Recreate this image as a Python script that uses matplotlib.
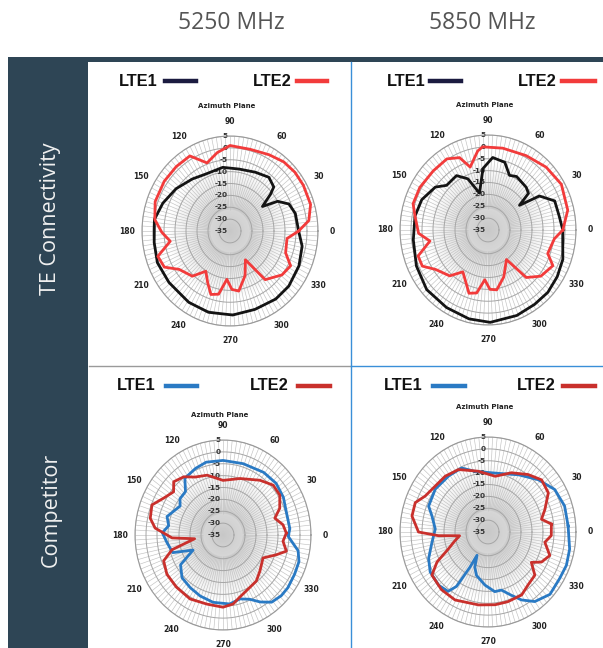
import numpy as np
import matplotlib
matplotlib.use("Agg")
import matplotlib.pyplot as plt
from matplotlib.patches import Rectangle
from matplotlib.lines import Line2D

# ---------------- data ----------------
columns = ["5250 MHz", "5850 MHz"]
rows = ["TE Connectivity", "Competitor"]
series_names = ["LTE1", "LTE2"]
theta_ticks = list(range(0, 360, 30))
r_ticks = [5, 0, -5, -10, -15, -20, -25, -30, -35]

te5250_lte1_deg = [0, 14, 23, 30, 35, 40, 43, 52, 65, 81, 97, 115, 128, 144, 159, 172, 188, 202, 218, 238, 254, 272, 289, 306, 319, 335, 349]
te5250_lte1_db = [-3.8, -4.4, -5.9, -10, -17, -11, -7.8, -6.3, -7.7, -8.6, -8, -8.6, -7.2, -4.7, -2.3, -0.3, -0.2, 0.6, 0.2, 0.4, 0.6, 0.4, -0.1, 0.4, 0.4, -0.4, -1.6]
te5250_lte2_deg = [0, 7, 17, 30, 40, 50, 61, 75, 90, 100, 110, 120, 132, 145, 160, 172, 181, 189, 198, 207, 215, 228, 237, 245, 252, 259, 266, 272, 279, 290, 300, 308, 322, 332, 340, 353]
te5250_lte2_db = [-3.8, 1.1, 3.3, 3.5, 3.5, 3, 1.7, 0.6, 1.0, -1.5, -4.5, 1.5, 1.5, 1.5, 1.2, -0.5, -4, -7.5, -0.5, -1.5, -6.8, -9.4, -14.8, -11, -6.9, -7.9, -14.6, -10.4, -9.4, -15, -21, -9, -5, -3.8, -8.1, -8.9]

te5850_lte1_deg = [0, 10, 22, 31.5, 36, 40, 46, 60, 67, 75, 86, 95, 104, 113, 122, 135, 143, 157, 170, 187, 205, 222, 240, 257, 271.5, 290, 304, 316, 328, 340, 355]
te5850_lte1_db = [-1, -2.1, -2.3, -7.6, -17.3, -11, -10, -9, -10, -5.5, -4.4, -9, -19, -11.6, -8, -8.4, -5, -2.3, -1.3, -0.8, 0.9, 2.5, 2.7, 3.4, 3.9, 3.3, 2.8, 2.8, 2.1, 1.2, -0.9]
te5850_lte2_deg = [0, 13, 30, 45, 61, 79, 94, 98, 107, 113, 122, 135, 150, 162, 170, 182.5, 190, 199, 207, 215, 228, 237, 245, 252, 259, 266, 272, 279, 290, 304, 311, 321, 333, 340, 353]
te5850_lte2_db = [-1, 2.2, 3.5, 2.4, 0.8, 0.1, 0.1, -1.4, -7.3, -1.9, 0.3, 0.2, 0.8, 0.8, -1.3, -3.4, -8.2, -1.4, -1.5, -6, -9, -14, -11, -7, -8, -14, -10, -9.5, -14, -20, -8.5, -4.1, -1.9, -6.1, -4.6]

comp5250_lte1_deg = [0, 5, 19, 30, 42, 55, 73, 90, 104, 114, 126, 133, 142, 148, 163, 171, 178, 187, 198, 205, 213, 224, 236, 248, 261, 276, 286, 294, 301, 308, 316, 323, 333, 342, 349, 359]
comp5250_lte1_db = [-5.2, -4.5, -4.6, -3.3, -2.5, -2.8, -3.6, -3.6, -3.4, -4.3, -5.5, -10, -10.2, -12, -8.4, -10, -7.4, -9.3, -11, -20, -12, -9.1, -8.3, -7.3, -6.3, -5.8, -7, -5.4, -2.1, 0.9, 1.8, 1.9, 1.5, 1.3, -0.2, -5.4]
comp5250_lte2_deg = [1.6, 9, 16.7, 23.5, 33, 42.6, 54, 72, 90, 106, 117.5, 126, 135, 141, 150, 158.6, 168, 174.6, 183, 187, 195, 202, 213, 226, 241, 256, 270, 279, 286, 299, 308, 318, 332, 341, 346.7, 354.5]
comp5250_lte2_db = [-6.2, -7.4, -10.4, -6.9, -4.2, -4, -6.5, -10, -12, -8.8, -7.5, -4.7, -3.3, -6.1, -3.9, -0.3, -1.2, -4, -11.8, -22, -11, -5.9, -4.6, -4.5, -4.2, -5, -4.6, -5.6, -7.7, -9.8, -10.4, -12.4, -14.4, -9.4, -5.4, -7.6]

comp5850_lte1_deg = [4, 17.5, 30.6, 44, 60, 83, 103, 114, 127, 143, 158, 165, 177, 190, 202.5, 212.6, 225, 234, 238, 241, 243, 248, 254, 266.5, 277, 284, 291, 298, 306, 317, 329, 338.5, 349]
comp5850_lte1_db = [1.5, 1.5, 0.2, -3.3, -7.2, -10, -8.8, -5.5, -5.4, -5, -5.9, -8.6, -11, -9.1, -5.8, -3.8, -3.3, -4.1, -8, -18, -24, -19, -16, -12.6, -9.7, -9.8, -6.7, -2.6, 1.2, 3.5, 3, 3.3, 2.8]
comp5850_lte2_deg = [6.6, 12.5, 20, 31, 42, 53, 67, 82, 100, 117, 129.6, 141, 152, 159.5, 169, 180, 184, 187, 195, 201.5, 208.6, 215.5, 229, 242.4, 262, 276, 287, 300, 309, 319.5, 327, 332.5, 340.6, 350.5, 357]
comp5850_lte2_db = [-6, -10.1, -7.5, -3, -2.2, -4.7, -7.9, -11.3, -9, -5.5, -4.5, -4.2, -2.7, 0.3, 0.2, -3.4, -12.5, -22, -19, -15.7, -8.6, -3.7, -2.8, -2.7, -4, -4.2, -4.3, -4.4, -6.2, -7, -11.5, -7.6, -5.2, -8.8, -6.2]

te_colors = ["#141414", "#f23b3b"]
te_swatch = ["#1b1b40", "#f23b3b"]
comp_colors = ["#2a7ac4", "#c9302c"]

# ---------------- figure ----------------
W, H = 603, 648
fig = plt.figure(figsize=(W / 100, H / 100), dpi=100)
fig.patch.set_facecolor("white")


def rect(x0, y0, x1, y1, color, z=0):
    fig.add_artist(Rectangle((x0 / W, 1 - y1 / H), (x1 - x0) / W, (y1 - y0) / H,
                             transform=fig.transFigure, facecolor=color,
                             edgecolor="none", zorder=z))


def hline(x0, x1, y, color, lw):
    fig.add_artist(Line2D([x0 / W, x1 / W], [1 - y / H, 1 - y / H], color=color, lw=lw,
                          transform=fig.transFigure, zorder=3))


def vline(x, y0, y1, color, lw):
    fig.add_artist(Line2D([x / W, x / W], [1 - y0 / H, 1 - y1 / H], color=color, lw=lw,
                          transform=fig.transFigure, zorder=3))


sidebar = "#2e4555"
rect(8, 57, 603, 62, sidebar)
rect(8, 57, 88, 648, sidebar)
hline(89, 351, 366, "#9a9a9a", 1.0)
hline(351, 603, 366, "#3a8fd8", 1.0)
vline(351, 62, 648, "#3a8fd8", 1.0)

# column headers and row labels
for txt, x in zip(columns, [231, 482]):
    fig.text(x / W, 1 - 23 / H, txt, ha="center", va="center", fontsize=16.5,
             family="Open Sans", color="#555555")
for txt, y in zip(rows, [219, 510]):
    fig.text(51 / W, 1 - y / H, txt, ha="center", va="center", fontsize=15.5,
             family="Open Sans", color="#f0f0f0", rotation=90)

panels = [
    dict(c=(230, 231), lt=(138, 81), ls=(165, 196), rt=(272, 81), rs=(297, 327), ty=106,
         d=[(te5250_lte1_deg, te5250_lte1_db), (te5250_lte2_deg, te5250_lte2_db)],
         col=te_colors, sw=te_swatch),
    dict(c=(488, 230), lt=(406, 81), ls=(430, 461), rt=(537, 81), rs=(562, 595), ty=105,
         d=[(te5850_lte1_deg, te5850_lte1_db), (te5850_lte2_deg, te5850_lte2_db)],
         col=te_colors, sw=te_swatch),
    dict(c=(223, 535), lt=(136, 386), ls=(166, 197), rt=(269, 386), rs=(298, 330), ty=415,
         d=[(comp5250_lte1_deg, comp5250_lte1_db), (comp5250_lte2_deg, comp5250_lte2_db)],
         col=comp_colors, sw=comp_colors),
    dict(c=(488, 532), lt=(403, 386), ls=(433, 465), rt=(536, 386), rs=(563, 595), ty=407,
         d=[(comp5850_lte1_deg, comp5850_lte1_db), (comp5850_lte2_deg, comp5850_lte2_db)],
         col=comp_colors, sw=comp_colors),
]

RX, RY = 88, 95
RMIN, RMAX = -35, 5

for p in panels:
    cx, cy = p["c"]
    ax = fig.add_axes([(cx - RX) / W, 1 - (cy + RY) / H, 2 * RX / W, 2 * RY / H],
                      projection="polar")
    ax.set_aspect("auto")
    ax.set_ylim(RMIN, RMAX)
    ax.grid(False)
    ax.set_yticks([])
    ax.set_facecolor("white")
    ax.spines["polar"].set_color("#9a9a9a")
    ax.spines["polar"].set_linewidth(0.8)

    # grey radial gradient background
    th = np.linspace(0, 2 * np.pi, 181)
    rr = np.linspace(RMIN, RMAX, 81)
    rc = 0.5 * (rr[:-1] + rr[1:])
    rn = (rc - RMIN) / (RMAX - RMIN)
    level = 0.78 + 0.22 * np.clip(rn / 0.72, 0, 1) ** 1.1
    C = np.repeat(level[:, None], len(th) - 1, axis=1)
    ax.pcolormesh(th, rr, C, cmap="gray", vmin=0, vmax=1, shading="flat",
                  zorder=0, rasterized=True)

    # spokes
    spk = np.deg2rad(np.arange(0, 360, 3))
    ax.vlines(spk, -26, RMAX, colors="#c2c2c2", lw=0.45, zorder=1)
    # rings
    tt = np.linspace(0, 2 * np.pi, 361)
    for rv in range(-30, 6, 5):
        ax.plot(tt, np.full_like(tt, rv), color="#a5a5a5", lw=0.7, zorder=1.5)

    ax.set_xticks(np.deg2rad(theta_ticks))
    ax.set_xticklabels([str(t) for t in theta_ticks], fontsize=5.5,
                       fontweight="bold", color="#222222")
    ax.tick_params(axis="x", pad=0)

    for rv in r_ticks:
        ax.annotate(str(rv), xy=(np.pi / 2, rv), xytext=(-1.5, 0),
                    textcoords="offset points", ha="right", va="center",
                    fontsize=5.2, fontweight="bold", color="#333333", zorder=2)

    for (dg, db), colr in zip(p["d"], p["col"]):
        a = np.deg2rad(np.array(dg + [dg[0] + 360]))
        v = np.array(db + [db[0]])
        ax.plot(a, v, color=colr, lw=2.0, zorder=3, solid_joinstyle="round")

    # title and legend
    fig.text(cx / W - 0.005, 1 - p["ty"] / H, "Azimuth Plane", ha="center", va="center",
             fontsize=5, fontweight="bold", color="#222222")
    fig.text(p["lt"][0] / W, 1 - p["lt"][1] / H, series_names[0], ha="center", va="center",
             fontsize=11.8, fontweight="bold", family="Liberation Sans", color="#111111")
    fig.text(p["rt"][0] / W, 1 - p["rt"][1] / H, series_names[1], ha="center", va="center",
             fontsize=11.8, fontweight="bold", family="Liberation Sans", color="#111111")
    y = p["lt"][1]
    hline(p["ls"][0], p["ls"][1], y, p["sw"][0], 3.2)
    hline(p["rs"][0], p["rs"][1], y, p["sw"][1], 3.2)

fig.savefig("out.png", dpi=100)
